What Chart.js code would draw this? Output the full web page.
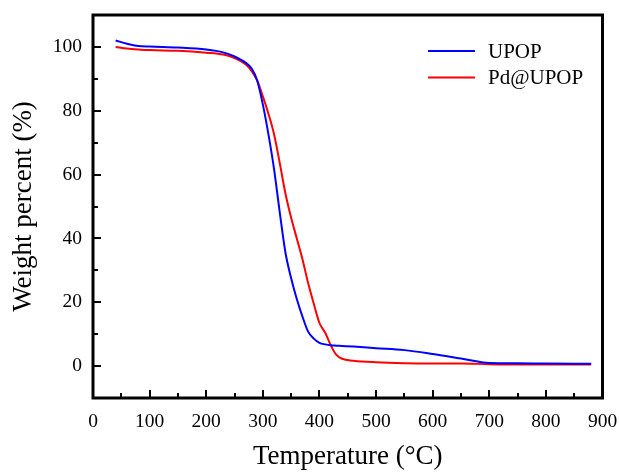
<!DOCTYPE html>
<html>
<head>
<meta charset="utf-8">
<script src="https://cdn.jsdelivr.net/npm/chart.js@4/dist/chart.umd.min.js"></script>
<style>
  html, body { margin: 0; padding: 0; background: #fff; }
  #wrap { width: 619px; height: 474px; }
</style>
</head>
<body>
<div id="wrap"><canvas id="tga"></canvas></div>
<script>
// TGA curves
const temps = [40, 60, 80, 100, 150, 200, 230, 250, 270, 280, 290, 300, 310, 320, 330, 340, 350,
  360, 370, 380, 390, 400, 410, 420, 430, 440, 460, 500, 550, 600, 650, 700, 750, 800, 880];

const upop = [102, 101, 100.3, 100.1, 99.8, 99.2, 98.3, 97, 95, 93.3, 89.5, 82, 72.5, 61.5, 48, 35.5, 27.5,
  21, 15.5, 10.8, 8.6, 7.3, 6.8, 6.5, 6.4, 6.3, 6.1, 5.6, 5.0, 3.8, 2.4, 1.0, 0.9, 0.8, 0.7];

const pdUpop = [100, 99.5, 99.2, 99.0, 98.8, 98.2, 97.6, 96.5, 94.5, 92.5, 89.5, 84.5, 79, 72.5, 63.5, 54, 46.5,
  40, 33.5, 26, 19.5, 13.5, 10.5, 6.5, 3.5, 2.3, 1.7, 1.2, 0.9, 0.8, 0.8, 0.6, 0.5, 0.5, 0.5];

const seriesNames = ['UPOP', 'Pd@UPOP'];
const seriesColors = ['#0000ff', '#ff0000'];

const xTicks = [0, 100, 200, 300, 400, 500, 600, 700, 800, 900];
const yTicks = [0, 20, 40, 60, 80, 100];

const SERIF = '"Times New Roman", "Liberation Serif", serif';

const toPoints = (ys) => temps.map((t, i) => ({ x: t, y: ys[i] }));

// frame, inward ticks and the in-plot legend
const framePlugin = {
  id: 'frame',
  afterDatasetsDraw(chart) {
    const { ctx, chartArea: a, scales } = chart;
    const xs = scales.x, ys = scales.y;
    ctx.save();
    ctx.strokeStyle = '#000';

    // ticks (major + minor), pointing into the plot
    ctx.lineWidth = 2;
    ctx.beginPath();
    for (let v = 0; v <= 900; v += 50) {
      const px = Math.round(xs.getPixelForValue(v));
      const len = v % 100 === 0 ? 8 : 5;
      ctx.moveTo(px, a.bottom);
      ctx.lineTo(px, a.bottom - len);
    }
    for (let v = -10; v <= 110; v += 10) {
      const py = Math.round(ys.getPixelForValue(v));
      const len = v % 20 === 0 ? 8 : 5;
      ctx.moveTo(a.left, py);
      ctx.lineTo(a.left + len, py);
    }
    ctx.stroke();

    ctx.lineWidth = 3;
    ctx.strokeRect(a.left, a.top, a.right - a.left, a.bottom - a.top);

    // legend
    ctx.font = '21px ' + SERIF;
    ctx.textBaseline = 'middle';
    ctx.textAlign = 'left';
    ctx.fillStyle = '#000';
    chart.data.datasets.forEach((ds, i) => {
      const y = 51 + i * 26.5;
      ctx.strokeStyle = ds.borderColor;
      ctx.lineWidth = 2;
      ctx.beginPath();
      ctx.moveTo(428, y);
      ctx.lineTo(475, y);
      ctx.stroke();
      ctx.fillText(ds.label, 488, y + 1);
    });
    ctx.restore();
  }
};

new Chart(document.getElementById('tga'), {
  type: 'line',
  data: {
    datasets: [
      { label: seriesNames[0], data: toPoints(upop), borderColor: seriesColors[0] },
      { label: seriesNames[1], data: toPoints(pdUpop), borderColor: seriesColors[1] }
    ]
  },
  options: {
    responsive: true,
    maintainAspectRatio: false,
    animation: false,
    devicePixelRatio: 1,
    layout: { padding: { top: 15, right: 16.5, left: 0, bottom: 0 } },
    elements: {
      line: { borderWidth: 2, cubicInterpolationMode: 'monotone', fill: false },
      point: { radius: 0 }
    },
    plugins: {
      legend: { display: false },
      tooltip: { enabled: false }
    },
    scales: {
      x: {
        type: 'linear',
        min: 0,
        max: 900,
        afterFit: (s) => {
          s.height = 76;
          s.paddingLeft = 0;
          s.paddingRight = 0;
        },
        afterBuildTicks: (s) => { s.ticks = xTicks.map(v => ({ value: v })); },
        grid: { display: false, drawTicks: false },
        border: { display: false },
        ticks: {
          color: '#000',
          padding: 12,
          maxRotation: 0,
          autoSkip: false,
          font: { family: SERIF, size: 19.5 }
        },
        title: {
          display: true,
          text: 'Temperature (°C)',
          color: '#000',
          font: { family: SERIF, size: 27 },
          padding: { top: 0, bottom: 1 }
        }
      },
      y: {
        type: 'linear',
        min: -10,
        max: 110,
        afterFit: (s) => {
          s.width = 93;
          s.paddingTop = 0;
          s.paddingBottom = 0;
        },
        afterBuildTicks: (s) => { s.ticks = yTicks.map(v => ({ value: v })); },
        grid: { display: false, drawTicks: false },
        border: { display: false },
        ticks: {
          color: '#000',
          padding: 11,
          autoSkip: false,
          font: { family: SERIF, size: 19.5 }
        },
        title: {
          display: true,
          text: 'Weight percent (%)',
          color: '#000',
          font: { family: SERIF, size: 27 },
          padding: { top: 8, bottom: 0 }
        }
      }
    }
  },
  plugins: [framePlugin]
});
</script>
</body>
</html>
